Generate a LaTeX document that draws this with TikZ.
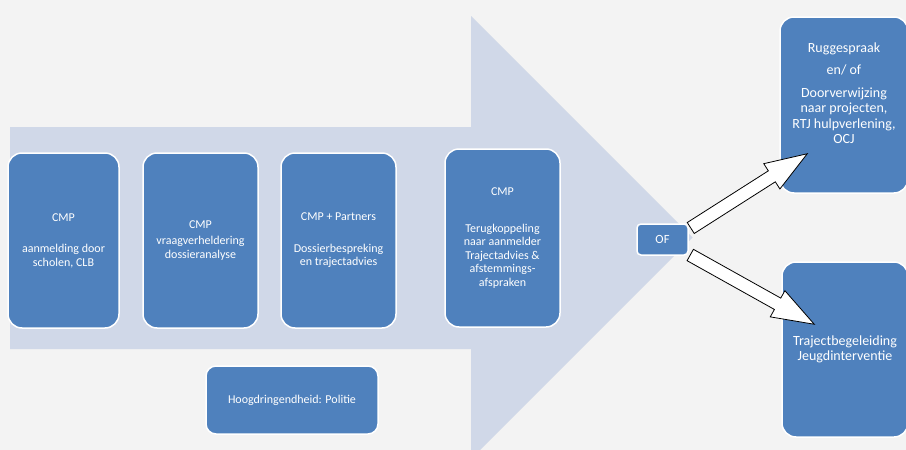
\documentclass[tikz,border=0pt]{standalone}
\usepackage{fontspec}
\setmainfont{Carlito}
\usetikzlibrary{calc}
\definecolor{boxblue}{HTML}{4F81BD}
\definecolor{pijlblauw}{HTML}{D0D8E8}
\definecolor{achtergrond}{HTML}{F3F3F3}
\tikzstyle{stap} = [rectangle, rounded corners=14pt, minimum width=115pt, minimum height=175pt, align=center, text=white, draw=white, line width=1.5pt, fill=boxblue, font=\fontsize{12}{13.5}\selectfont]
\tikzstyle{uitkomst} = [stap, minimum width=128pt, minimum height=176pt, font=\fontsize{14}{15.5}\selectfont]
\tikzstyle{keuze} = [stap, rounded corners=4pt, minimum width=51pt, minimum height=31pt, font=\fontsize{12.5}{14}\selectfont]
\tikzstyle{politie} = [stap, rounded corners=10pt, minimum width=172pt, minimum height=68pt, font=\fontsize{12}{13.5}\selectfont]
\tikzstyle{blokpijl} = [draw=black, fill=white, line width=0.8pt, line join=miter]
\newcommand{\blokpijl}[2]{\draw [blokpijl] ($(#1)!6.5pt!90:(#2)$) -- ($(#2)!42pt!(#1)!6.5pt!-90:(#1)$) -- ($(#2)!42pt!(#1)!15pt!-90:(#1)$) -- (#2) -- ($(#2)!42pt!(#1)!15pt!90:(#1)$) -- ($(#2)!42pt!(#1)!6.5pt!90:(#1)$) -- ($(#1)!6.5pt!-90:(#2)$) -- cycle;}
\begin{document}
\begin{tikzpicture}[x=1pt, y=-1pt]
\fill [achtergrond] (0,0) rectangle (906,450);
\useasboundingbox (0,0) rectangle (906,450);
\fill [pijlblauw] (10,127) -- (471,127) -- (471,16) -- (692.5,237.5) -- (471,459) -- (471,349) -- (10,349) -- cycle;

\node (aanmelding) [stap, minimum width=111pt] at (63.5,240.5) {CMP\\[18pt]aanmelding door\\scholen, CLB};
\node (vraag) [stap] at (200.5,240.5) {CMP\\[3pt]vraagverheldering\\dossieranalyse};
\node (bespreking) [stap] at (338.5,240.5) {CMP + Partners\\[18pt]Dossierbespreking\\en trajectadvies};
\node (terug) [stap, minimum height=178pt] at (502.5,238) {CMP\\[23pt]Terugkoppeling\\naar aanmelder\\Trajectadvies \&\\afstemmings-\\afspraken};
\node (of) [keuze] at (662.5,239.5) {OF};
\node (rugge) [uitkomst] at (844,105) {Ruggespraak\\[6.5pt]en/ of\\[7.5pt]Doorverwijzing\\naar projecten,\\RTJ hulpverlening,\\OCJ\\[8.5pt]\mbox{}};
\node (traject) [uitkomst, minimum width=126pt, minimum height=175pt] at (845,349.5) {Trajectbegeleiding\\Jeugdinterventie};
\node (politie) [politie] at (292,400) {Hoogdringendheid: Politie};

\coordinate (start1) at ($(of.east)+(2,-11.5)$);
\coordinate (eind1) at ($(rugge.south west)+(28,-40)$);
\coordinate (start2) at ($(of.east)+(1.5,15.5)$);
\coordinate (eind2) at ($(traject.north west)+(33,63)$);
\blokpijl{start1}{eind1}
\blokpijl{start2}{eind2}
\end{tikzpicture}
\end{document}
